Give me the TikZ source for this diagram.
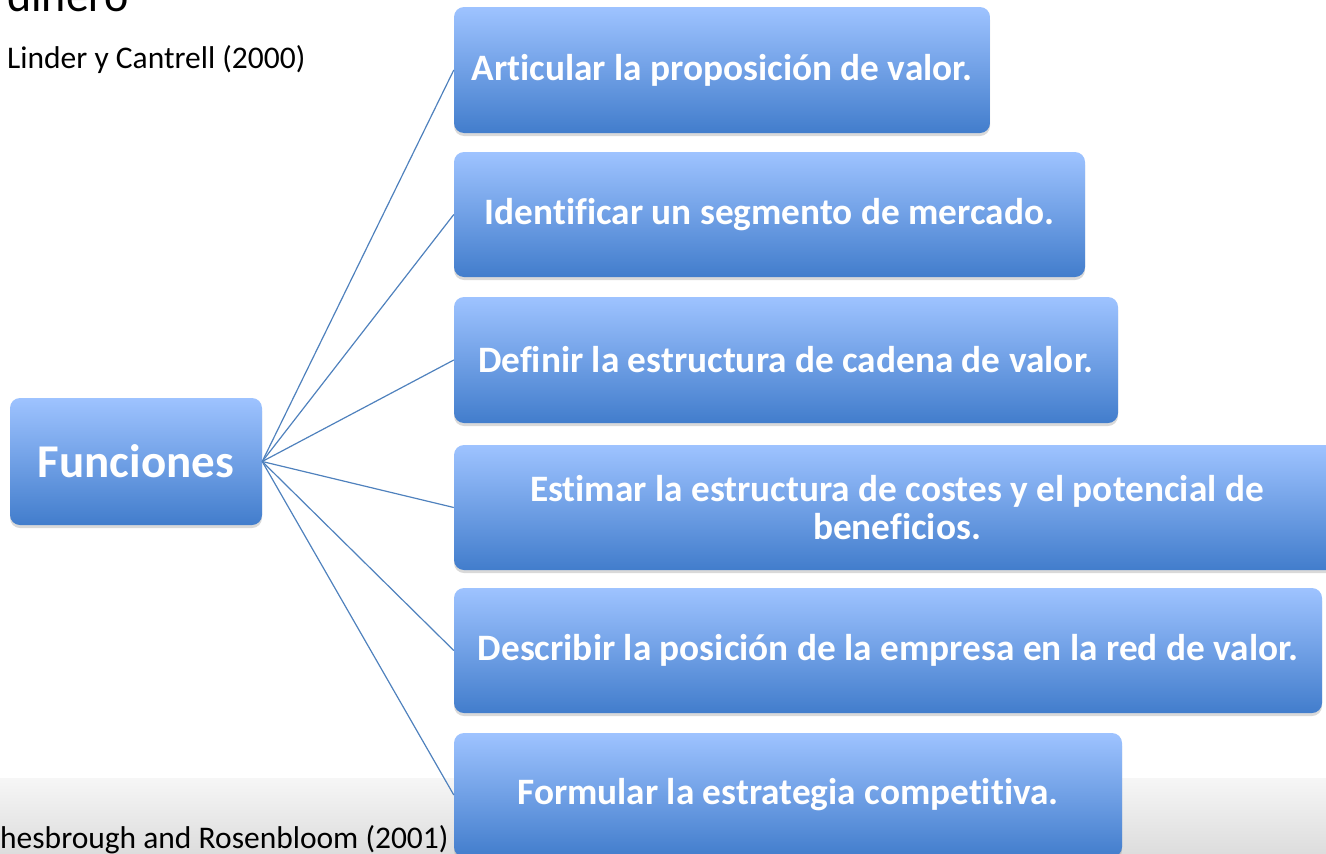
\documentclass[tikz,border=0pt]{standalone}
\usepackage{fontspec}
\setmainfont[Ligatures=CommonOff]{Carlito}
\usetikzlibrary{shadows}
\definecolor{boxtop}{RGB}{158,195,255}
\definecolor{boxbot}{RGB}{66,125,204}
\definecolor{linkblue}{RGB}{79,129,189}
\begin{document}
\begin{tikzpicture}
  [x=1pt,y=-1pt,every node/.style={inner sep=0pt},
   funbox/.style={rounded corners=10pt,top color=boxtop,bottom color=boxbot,
     drop shadow={opacity=.3,shadow xshift=0pt,shadow yshift=-3pt},
     text=white,align=center,font=\bfseries\fontsize{37.3}{38}\selectfont}]
  \useasboundingbox (0,0) rectangle (1326,854);
  \clip (0,0) rectangle (1326,854);

  \shade[top color=gray!7,bottom color=gray!27] (0,778) rectangle (1326,854);

  \node[anchor=base west,font=\fontsize{46}{50}\selectfont] (title) at (7,11) {dinero};
  \node[anchor=base west,font=\fontsize{31.5}{36}\selectfont] (src1) at (7,68) {Linder y Cantrell (2000)};
  \node[anchor=base west,font=\fontsize{31.5}{36}\selectfont] (src2) at (0,848) {hesbrough and Rosenbloom (2001)};

  \node[funbox,minimum width=252,minimum height=127,font=\bfseries\fontsize{47}{50}\selectfont] (fun) at (136,461.5) {Funciones};
  \node[funbox,minimum width=536,minimum height=126] (b1) at (722,70)    {Articular la proposición de valor.};
  \node[funbox,minimum width=631,minimum height=125] (b2) at (769.5,214.5) {Identificar un segmento de mercado.};
  \node[funbox,minimum width=664,minimum height=126] (b3) at (786,360)   {Definir la estructura de cadena de valor.};
  \node[funbox,minimum width=886,minimum height=125] (b4) at (897,507.5) {Estimar la estructura de costes y el potencial de\\beneficios.};
  \node[funbox,minimum width=868,minimum height=125] (b5) at (888,650.5) {Describir la posición de la empresa en la red de valor.};
  \node[funbox,minimum width=668,minimum height=124] (b6) at (788,795)   {Formular la estrategia competitiva.};

  \foreach \to in {b1,b2,b3,b4,b5,b6}
    \draw[linkblue,line width=1.2pt] (fun.east) -- (\to.west);

\end{tikzpicture}
\end{document}
